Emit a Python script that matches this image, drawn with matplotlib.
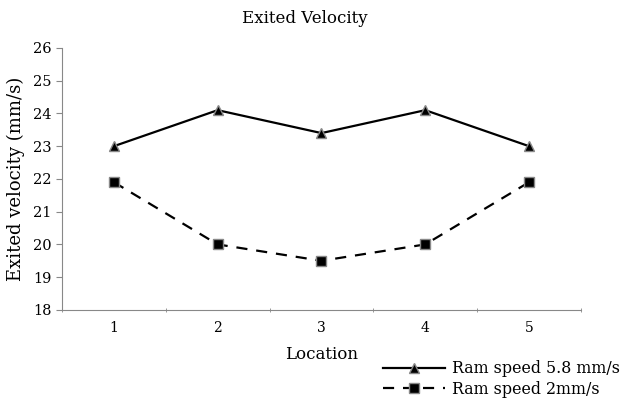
import matplotlib.pyplot as plt
import numpy as np

locations = [1, 2, 3, 4, 5]
ram_58 = [23.0, 24.1, 23.4, 24.1, 23.0]
ram_2 = [21.9, 20.0, 19.5, 20.0, 21.9]
yticks = [18, 19, 20, 21, 22, 23, 24, 25, 26]

plt.rcParams['font.family'] = ['DejaVu Serif']

fig = plt.figure(figsize=(6.26, 4.03), dpi=100)
ax = fig.add_axes([0.099, 0.231, 0.829, 0.65])

ax.plot(locations, ram_58, color='black', linewidth=1.6, marker='^',
        markersize=7, markerfacecolor='black', markeredgecolor='#888888',
        markeredgewidth=1, label='Ram speed 5.8 mm/s')
ax.plot(locations, ram_2, color='black', linewidth=1.6, linestyle=(0, (5, 4)),
        marker='s', markersize=7, markerfacecolor='black',
        markeredgecolor='#888888', markeredgewidth=1, label='Ram speed 2mm/s')

ax.set_xlim(0.5, 5.5)
ax.set_ylim(18, 26)
ax.set_yticks(yticks)
ax.set_xticks(locations)
ax.set_xticks(np.arange(0.5, 6, 1), minor=True)
ax.tick_params(axis='x', which='major', length=0, labelsize=10, pad=8)
ax.tick_params(axis='x', which='minor', length=3, direction='inout', color='#888888')
ax.tick_params(axis='y', length=4, color='#888888', labelsize=10.5)

for s in ['top', 'right']:
    ax.spines[s].set_visible(False)
for s in ['left', 'bottom']:
    ax.spines[s].set_color('#888888')

ax.set_title('Exited Velocity', fontsize=12, pad=18, x=0.468)
ax.set_ylabel('Exited velocity (mm/s)', fontsize=13, labelpad=6)
ax.set_xlabel('Location', fontsize=12, labelpad=8)

fig.legend(loc='lower right', bbox_to_anchor=(1.006, -0.01), frameon=False,
           fontsize=11.4, handlelength=3.9, handletextpad=0.45,
           labelspacing=0.2, borderaxespad=0.2)

fig.savefig('out.png', dpi=100)
